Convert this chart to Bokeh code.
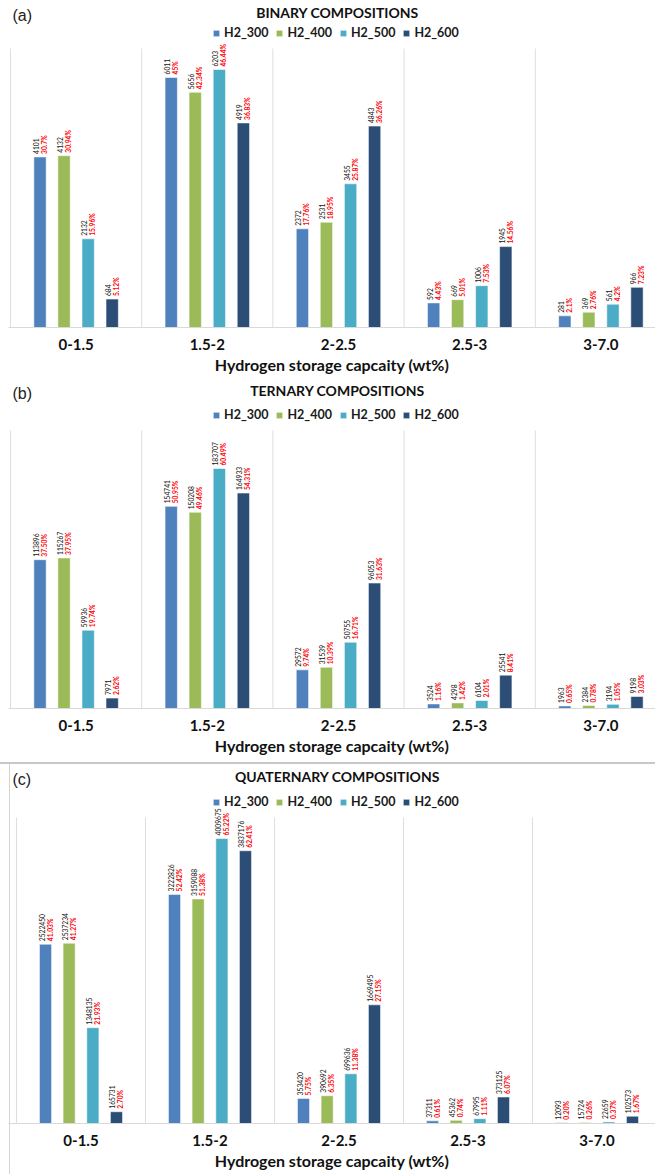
import math
from bokeh.plotting import figure
from bokeh.models import ColumnDataSource, Range1d, FixedTicker, Legend, LegendItem, Label
from bokeh.layouts import column
from bokeh.core.properties import value
from bokeh.embed import file_html
from bokeh.resources import INLINE

# Hydrogen storage capacity bins (wt%)
categories = ["0-1.5", "1.5-2", "2-2.5", "2.5-3", "3-7.0"]
series = ["H2_300", "H2_400", "H2_500", "H2_600"]
colors = ["#4F81BD", "#9BBB59", "#4BACC6", "#2C4D75"]

# Binary compositions: counts and share per bin
binary_300 = [4101, 6011, 2372, 592, 281]
binary_400 = [4132, 5656, 2531, 669, 369]
binary_500 = [2132, 6203, 3455, 1006, 561]
binary_600 = [684, 4919, 4843, 1945, 966]
binary_pct_300 = ["30.7%", "45%", "17.76%", "4.43%", "2.1%"]
binary_pct_400 = ["30.94%", "42.34%", "18.95%", "5.01%", "2.76%"]
binary_pct_500 = ["15.96%", "46.44%", "25.87%", "7.53%", "4.2%"]
binary_pct_600 = ["5.12%", "36.83%", "36.26%", "14.56%", "7.23%"]

# Ternary compositions
ternary_300 = [113896, 154741, 29572, 3524, 1963]
ternary_400 = [115267, 150208, 31539, 4298, 2384]
ternary_500 = [59936, 183707, 50755, 6104, 3194]
ternary_600 = [7971, 164933, 96053, 25541, 9198]
ternary_pct_300 = ["37.50%", "50.95%", "9.74%", "1.16%", "0.65%"]
ternary_pct_400 = ["37.95%", "49.46%", "10.39%", "1.42%", "0.78%"]
ternary_pct_500 = ["19.74%", "60.49%", "16.71%", "2.01%", "1.05%"]
ternary_pct_600 = ["2.62%", "54.31%", "31.63%", "8.41%", "3.03%"]

# Quaternary compositions
quaternary_300 = [2522450, 3222826, 353420, 37311, 12093]
quaternary_400 = [2537234, 3159088, 390692, 45362, 15724]
quaternary_500 = [1348135, 4009675, 699636, 67995, 22659]
quaternary_600 = [165731, 3837176, 1669495, 373125, 102573]
quaternary_pct_300 = ["41.03%", "52.42%", "5.75%", "0.61%", "0.20%"]
quaternary_pct_400 = ["41.27%", "51.38%", "6.35%", "0.74%", "0.26%"]
quaternary_pct_500 = ["21.93%", "65.22%", "11.38%", "1.11%", "0.37%"]
quaternary_pct_600 = ["2.70%", "62.41%", "27.15%", "6.07%", "1.67%"]

FONT = "Lato"
OFFSETS = [-0.275, -0.092, 0.092, 0.275]
BAR_W = 0.094
LEFT = 8  # canvas pixels left of the frame


def make_panel(tag, title, counts, pcts, ymax, first_div, cat_px, head, plot_h, bottom,
               border=False):
    """head: pixels above the bar area (title + legend); plot_h: bar area height;
    first_div: canvas x of the first category separator."""
    frame_w = 655 - LEFT
    frame_h = head + plot_h
    height = frame_h + bottom
    y_end = ymax * frame_h / plot_h
    px = ymax / plot_h  # data units per pixel
    x0 = -(first_div - LEFT) / cat_px

    def cx(canvas_x):
        return x0 + (canvas_x - LEFT) / cat_px

    kw = {}
    if border:
        # chart-area frame: grey rule on top, thin rule just left of the plot
        kw["styles"] = {
            "border-top": "2px solid #c8c8c8",
            "box-sizing": "border-box",
            "background": "linear-gradient(to right, #ffffff 9px, #d4d4d4 9px, "
                          "#d4d4d4 10px, #ffffff 10px)",
        }
    p = figure(width=655, height=height,
               x_range=Range1d(x0, x0 + frame_w / cat_px), y_range=Range1d(0, y_end),
               output_backend="svg", toolbar_location=None, y_axis_location=None,
               min_border_left=LEFT, min_border_right=0,
               min_border_top=0, min_border_bottom=bottom, **kw)
    p.outline_line_color = None
    if border:
        p.background_fill_alpha = 0
        p.border_fill_alpha = 0
    else:
        p.background_fill_color = "white"
        p.border_fill_color = "white"
    p.xgrid.grid_line_color = None
    p.ygrid.grid_line_color = None

    # category separators, limited to the bar area
    bounds = list(range(len(categories) + 1))
    p.segment(x0=bounds, x1=bounds, y0=[0] * len(bounds), y1=[ymax] * len(bounds),
              line_color="#dedede", line_width=1)

    centers = [i + 0.5 for i in range(len(categories))]
    items = []
    for k, name in enumerate(series):
        xs = [c + OFFSETS[k] for c in centers]
        src = ColumnDataSource(dict(x=xs, top=counts[k], num=[str(v) for v in counts[k]],
                                    pct=pcts[k]))
        r = p.vbar(x="x", top="top", width=BAR_W, bottom=0, source=src,
                   fill_color=colors[k], line_color="white", line_alpha=0.55, line_width=1)
        items.append(LegendItem(label=name, renderers=[r]))
        p.text(x="x", y="top", text="num", source=src, angle=math.pi / 2,
               text_align="left", text_baseline="middle", x_offset=-4, y_offset=-3,
               text_font=value(FONT), text_font_size="6.7px", text_color="#111111")
        p.text(x="x", y="top", text="pct", source=src, angle=math.pi / 2,
               text_align="left", text_baseline="middle", x_offset=4, y_offset=-3,
               text_font=value(FONT), text_font_size="6.7px", text_font_style="bold",
               text_color="#ff0000")

    legend = Legend(items=items, orientation="horizontal",
                    location=(212 - LEFT, plot_h + 8),
                    padding=0, margin=0, spacing=7, label_standoff=4,
                    glyph_width=8, glyph_height=8, label_height=14,
                    label_text_font=FONT, label_text_font_size="12.5px",
                    label_text_font_style="bold", label_text_color="#1a1a1a",
                    border_line_color=None, background_fill_alpha=0)
    p.add_layout(legend, "center")

    # panel title and tag, placed in the head area above the bars
    p.add_layout(Label(x=cx(337), y=ymax + px * (head - 12), text=title,
                       text_align="center", text_baseline="middle", text_font=FONT,
                       text_font_size="14px", text_font_style="bold", text_color="#111111"))
    p.add_layout(Label(x=cx(12), y=ymax + px * (head - 15), text=tag,
                       text_align="left", text_baseline="middle", text_font="Liberation Sans",
                       text_font_size="16px", text_color="#222222"))

    ax = p.xaxis[0]
    ax.ticker = FixedTicker(ticks=centers)
    ax.major_label_overrides = {c: cat for c, cat in zip(centers, categories)}
    ax.major_tick_line_color = None
    ax.minor_tick_line_color = None
    ax.major_tick_out = 0
    ax.major_tick_in = 0
    ax.axis_line_color = "#d9d9d9"
    ax.major_label_standoff = 11
    ax.major_label_text_font = FONT
    ax.major_label_text_font_size = "15px"
    ax.major_label_text_font_style = "bold"
    ax.major_label_text_color = "#111111"
    ax.axis_label = "Hydrogen storage capcaity (wt%)"
    ax.axis_label_standoff = 2
    ax.axis_label_text_font = FONT
    ax.axis_label_text_font_size = "16px"
    ax.axis_label_text_font_style = "bold"
    ax.axis_label_text_color = "#111111"
    return p


pa = make_panel("(a)", "BINARY COMPOSITIONS",
                [binary_300, binary_400, binary_500, binary_600],
                [binary_pct_300, binary_pct_400, binary_pct_500, binary_pct_600],
                6708, 10, 131.2, 48, 279, 51)
pb = make_panel("(b)", "TERNARY COMPOSITIONS",
                [ternary_300, ternary_400, ternary_500, ternary_600],
                [ternary_pct_300, ternary_pct_400, ternary_pct_500, ternary_pct_600],
                212800, 10, 131.2, 52, 278, 54)
pc = make_panel("(c)", "QUATERNARY COMPOSITIONS",
                [quaternary_300, quaternary_400, quaternary_500, quaternary_600],
                [quaternary_pct_300, quaternary_pct_400, quaternary_pct_500, quaternary_pct_600],
                4305000, 16, 129.0, 53, 306, 53, border=True)

layout = column(pa, pb, pc, spacing=0)
open("out.html", "w").write(file_html(layout, INLINE))
